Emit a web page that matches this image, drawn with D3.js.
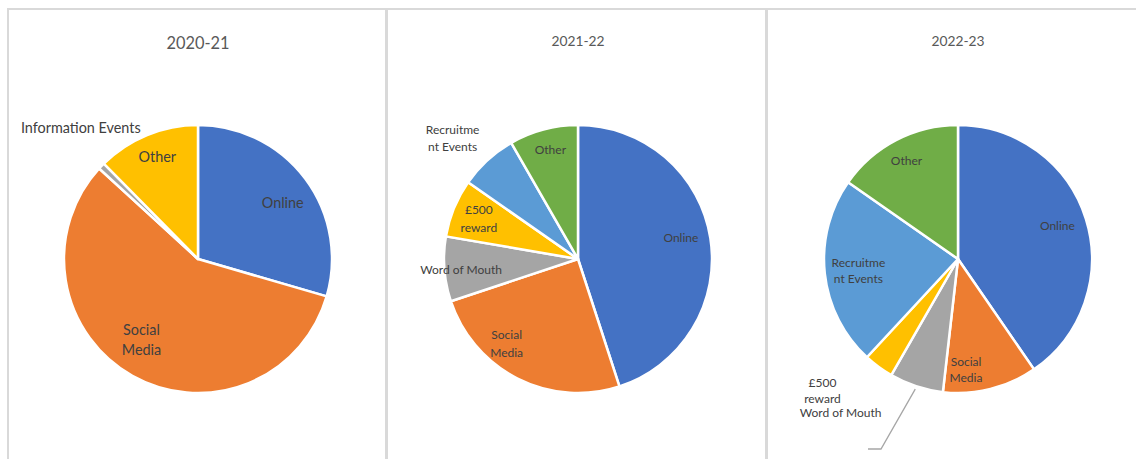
<!DOCTYPE html>
<html>
<head>
<meta charset="utf-8">
<script src="https://cdn.jsdelivr.net/npm/d3@7"></script>
<style>
  body { margin: 0; background: #fff; }
  svg { display: block; font-family: Lato, "Noto Sans", sans-serif; }
</style>
</head>
<body>
<svg width="1136" height="459"></svg>
<script>
// one pie per year, slices read clockwise from 12 o'clock (percent)
const years = ["2020-21", "2021-22", "2022-23"];

const cats2021 = ["Online", "Social Media", "Information Events", "Other"];
const vals2021 = [29.5, 57.3, 0.8, 12.4];

const cats2122 = ["Online", "Social Media", "Word of Mouth", "£500 reward", "Recruitment Events", "Other"];
const vals2122 = [45.0, 24.9, 7.8, 7.0, 7.0, 8.3];

const cats2223 = ["Online", "Social Media", "Word of Mouth", "£500 reward", "Recruitment Events", "Other"];
const vals2223 = [40.4, 11.4, 6.5, 3.6, 22.8, 15.3];

const allCats = [cats2021, cats2122, cats2223];
const allVals = [vals2021, vals2122, vals2223];

// excel office palette, by point index
const palette = ["#4472C4", "#ED7D31", "#A5A5A5", "#FFC000", "#5B9BD5", "#70AD47"];

// how excel wrapped the labels in each chart
const wraps = [
  {"Social Media": ["Social", "Media"]},
  {"Social Media": ["Social", "Media"], "£500 reward": ["£500", "reward"], "Recruitment Events": ["Recruitme", "nt Events"]},
  {"Social Media": ["Social", "Media"], "£500 reward": ["£500", "reward"], "Recruitment Events": ["Recruitme", "nt Events"]}
];

// nudges from the default label spot (0.8 r on the slice mid angle)
const nudges = [
  {"Online": [-1, 8], "Social Media": [-4, -13], "Information Events": [-40, -57], "Other": [0, -3]},
  {"Online": [-3, -5], "Social Media": [-23, -11], "Word of Mouth": [-10, 2], "Recruitment Events": [-53, -42], "Other": [0, -6]},
  {"Online": [-3, -2], "Social Media": [-18, 7], "Word of Mouth": [-84, 52], "£500 reward": [-72, 45], "Recruitment Events": [7, 0], "Other": [-2, -3]}
];

const svg = d3.select("svg");
const W = 1136, H = 459;
const panelW = 380, panelX0 = 7, topY = 9;
const R = 134;
const cy = 259;
const titleSize = [16.4, 13.8, 13.8];
const labelSize = [14.4, 12, 12];
const lineH = [20, 17.5, 16];

// panel borders
const border = svg.append("g").attr("stroke", "#d9d9d9").attr("fill", "none");
border.append("line").attr("x1", panelX0).attr("x2", W).attr("y1", topY).attr("y2", topY).attr("stroke-width", 2);
border.append("line").attr("x1", 8).attr("x2", 8).attr("y1", topY - 1).attr("y2", H).attr("stroke-width", 2);
[386.5, 766.5].forEach(x => {
  border.append("line").attr("x1", x).attr("x2", x).attr("y1", topY - 1).attr("y2", H).attr("stroke-width", 3);
});

const color = d3.scaleOrdinal().domain(d3.range(6)).range(palette);
const pie = d3.pie().sort(null).value(d => d.v);
const arc = d3.arc().innerRadius(0).outerRadius(R);

years.forEach((yr, ci) => {
  const cx = panelX0 + 2 + ci * panelW + panelW / 2 - 1;
  const g = svg.append("g").attr("transform", `translate(${cx},${cy})`);

  svg.append("text")
    .attr("x", cx).attr("y", ci === 0 ? 42 : 40)
    .attr("text-anchor", "middle").attr("dominant-baseline", "central")
    .attr("font-size", titleSize[ci]).attr("fill", "#595959")
    .text(yr);

  const data = allCats[ci].map((c, i) => ({c: c, v: allVals[ci][i], i: i}));
  const arcs = pie(data);

  g.selectAll("path")
    .data(arcs)
    .enter().append("path")
    .attr("d", arc)
    .attr("fill", d => color(d.data.i))
    .attr("stroke", "#fff")
    .attr("stroke-width", 2.5)
    .attr("stroke-linejoin", "round");

  // leader line for the little word-of-mouth slice in 2022-23
  if (ci === 2) {
    const wom = arcs.find(d => d.data.c === "Word of Mouth");
    const a = (wom.startAngle + wom.endAngle) / 2;
    const p0 = [Math.sin(a) * (R + 3), -Math.cos(a) * (R + 3)];
    g.append("polyline")
      .attr("points", [p0, [-77, 190], [-90, 190]].map(p => p.join(",")).join(" "))
      .attr("fill", "none").attr("stroke", "#a6a6a6").attr("stroke-width", 1.3);
  }

  g.selectAll(".lbl")
    .data(arcs)
    .enter().append("text")
    .attr("class", "lbl")
    .attr("text-anchor", "middle")
    .attr("font-size", labelSize[ci])
    .attr("fill", "#404040")
    .each(function(d) {
      const a = (d.startAngle + d.endAngle) / 2;
      const n = nudges[ci][d.data.c] || [0, 0];
      const x = Math.sin(a) * R * 0.8 + n[0];
      const y = -Math.cos(a) * R * 0.8 + n[1];
      const lines = wraps[ci][d.data.c] || [d.data.c];
      d3.select(this).selectAll("tspan")
        .data(lines)
        .enter().append("tspan")
        .attr("x", x)
        .attr("y", (t, k) => y + (k - (lines.length - 1) / 2) * lineH[ci])
        .attr("dominant-baseline", "central")
        .text(t => t);
    });
});
</script>
</body>
</html>
